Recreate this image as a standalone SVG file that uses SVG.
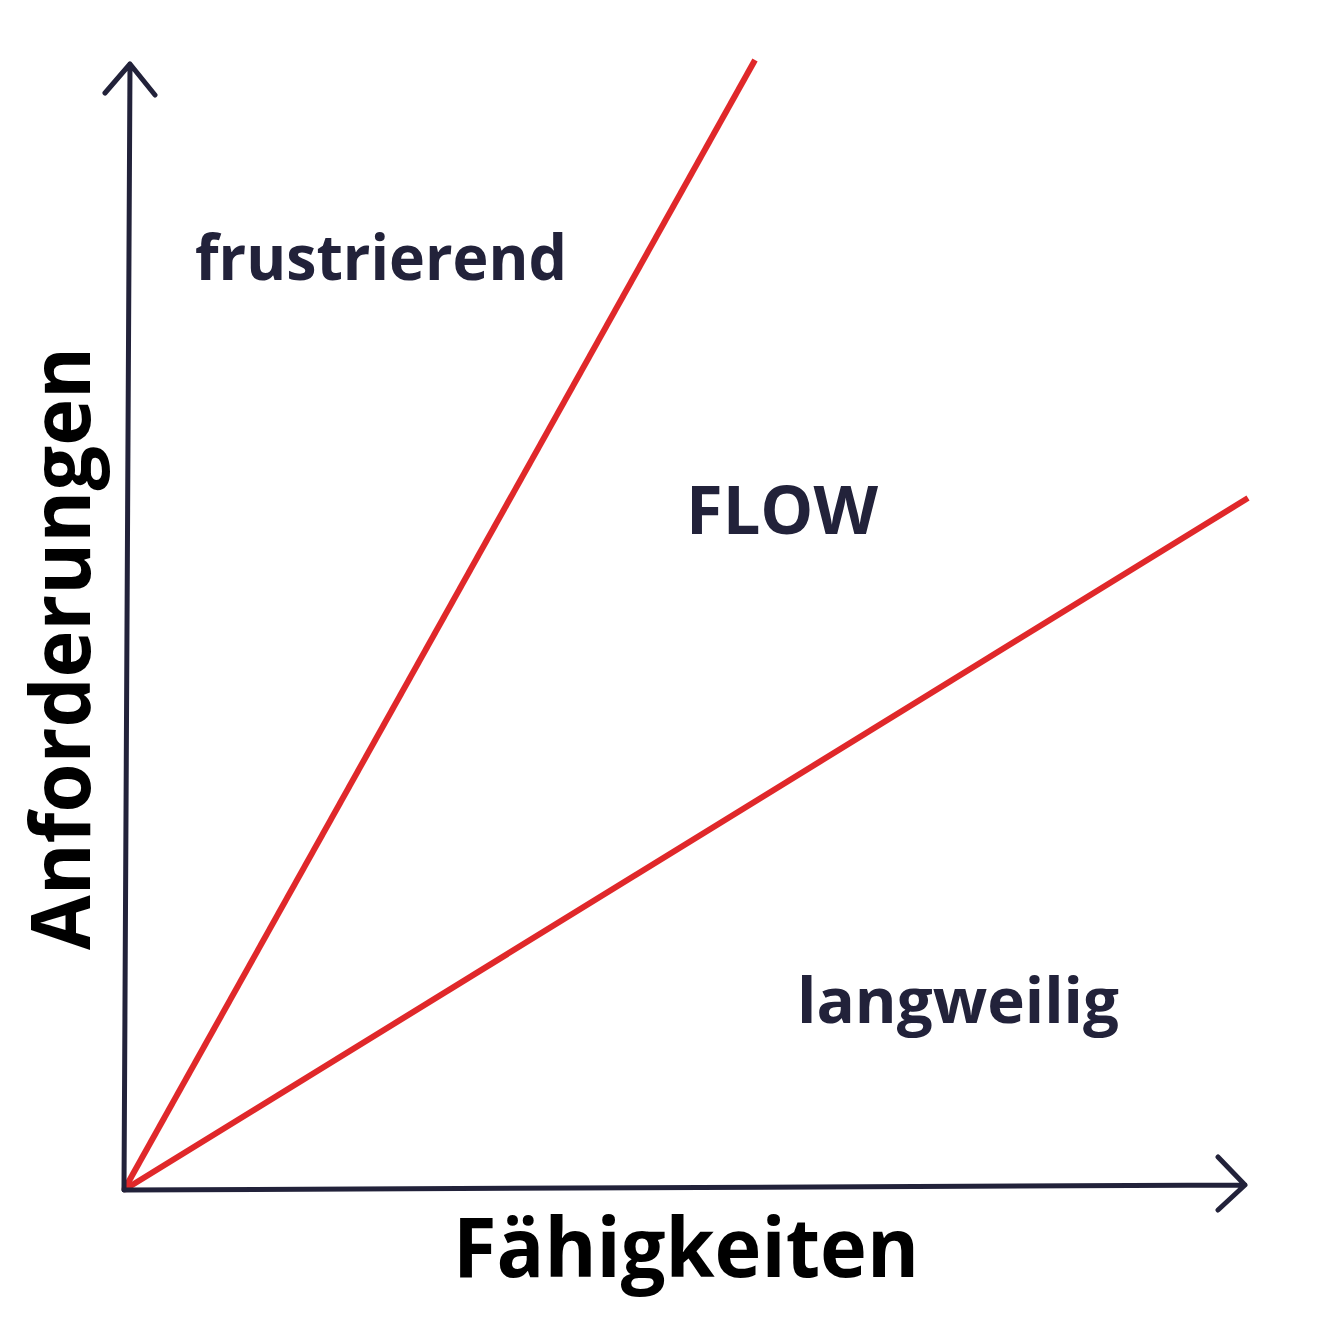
<svg xmlns="http://www.w3.org/2000/svg" width="1328" height="1328" viewBox="0 0 1328 1328">
<style>
.ax{stroke:#22223a;stroke-width:5;fill:none;stroke-linecap:round;stroke-linejoin:round}
.red{stroke:#e0282a;stroke-width:6;fill:none}
.t{font-family:"Open Sans","Liberation Sans",sans-serif;font-weight:bold;fill:#22223a}
.b{font-family:"Open Sans","Liberation Sans",sans-serif;font-weight:bold;fill:#000}
</style>
<rect width="1328" height="1328" fill="#fff"/>
<g id="connectors">
<path class="red" d="M124 1190 L755 60"/>
<path class="red" d="M124 1190 L1248 498"/>
<path class="ax" d="M124 1190 L130 64 M105 93 L130 64 L155 95"/>
<path class="ax" d="M124 1190 L1245 1185 M1218 1157 L1245 1185 L1218 1210"/>
</g>
<g id="frustrierend"><text class="t" x="195" y="280" font-size="62" textLength="372" lengthAdjust="spacingAndGlyphs">frustrierend</text></g>
<g id="flow"><text class="t" x="686" y="534" font-size="66" textLength="192" lengthAdjust="spacingAndGlyphs">FLOW</text></g>
<g id="langweilig"><text class="t" x="797" y="1023" font-size="62" textLength="322" lengthAdjust="spacingAndGlyphs">langweilig</text></g>
<g id="faehigkeiten"><text class="b" x="453" y="1277" font-size="82" textLength="466" lengthAdjust="spacingAndGlyphs">Fähigkeiten</text></g>
<g id="anforderungen"><text class="b" transform="translate(90 950) rotate(-90)" x="0" y="0" font-size="82" textLength="603" lengthAdjust="spacingAndGlyphs">Anforderungen</text></g>
</svg>
